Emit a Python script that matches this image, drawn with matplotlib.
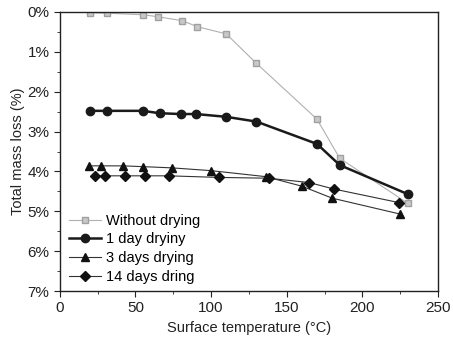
import numpy as np
import matplotlib.pyplot as plt
from matplotlib.ticker import MultipleLocator, FuncFormatter

plt.rcParams['font.family'] = ['Liberation Sans', 'DejaVu Sans']

# total mass loss (%) vs surface temperature (degC)
t_none = [20, 31, 55, 65, 81, 91, 110, 130, 170, 185, 230]
y_none = [0.02, 0.03, 0.07, 0.12, 0.22, 0.37, 0.55, 1.29, 2.69, 3.67, 4.80]

t_1d = [20, 31, 55, 66, 80, 90, 110, 130, 170, 185, 230]
y_1d = [2.48, 2.48, 2.48, 2.54, 2.56, 2.56, 2.63, 2.75, 3.31, 3.84, 4.57]

t_3d = [19, 27, 42, 55, 74, 100, 136, 160, 180, 225]
y_3d = [3.86, 3.86, 3.86, 3.88, 3.91, 3.98, 4.13, 4.37, 4.67, 5.07]

t_14d = [23, 30, 43, 56, 72, 105, 138, 165, 181, 224]
y_14d = [4.11, 4.11, 4.11, 4.11, 4.11, 4.15, 4.17, 4.28, 4.44, 4.78]

fig = plt.figure(figsize=(4.53, 3.42), dpi=100)
ax = fig.add_axes([0.132, 0.149, 0.835, 0.816])

ax.plot(t_none, y_none, color='#b0b0b0', lw=0.8, marker='s', ms=4,
        mfc='#c8c8c8', mec='#a0a0a0', label='Without drying')
ax.plot(t_1d, y_1d, color='#1a1a1a', lw=1.8, marker='o', ms=6,
        label='1 day dryiny')
ax.plot(t_3d, y_3d, color='#333333', lw=0.8, marker='^', ms=6,
        mfc='#111111', mec='#111111', label='3 days drying')
ax.plot(t_14d, y_14d, color='#333333', lw=0.8, marker='D', ms=5,
        mfc='#111111', mec='#111111', label='14 days dring')

ax.set_xlim(0, 250)
ax.set_ylim(7, 0)
ax.xaxis.set_major_locator(MultipleLocator(50))
ax.xaxis.set_minor_locator(MultipleLocator(25))
ax.yaxis.set_major_locator(MultipleLocator(1))
ax.yaxis.set_minor_locator(MultipleLocator(0.5))
ax.yaxis.set_major_formatter(FuncFormatter(lambda v, p: '%d%%' % round(v)))
ax.tick_params(which='both', direction='out', top=False, right=False,
               labelsize=11, colors='#222222')
ax.tick_params(which='major', length=4)
ax.tick_params(which='minor', length=2.5)
for s in ax.spines.values():
    s.set_linewidth(1.0)
    s.set_color('#222222')

ax.set_xlabel('Surface temperature (°C)', fontsize=10.5, color='#222222')
ax.set_ylabel('Total mass loss (%)', fontsize=10.5, color='#222222', labelpad=2)

ax.legend(loc='lower left', bbox_to_anchor=(0.0, -0.005), frameon=False,
          fontsize=10.5, handlelength=2.2, handletextpad=0.4,
          labelspacing=0.32, borderaxespad=0.2)

fig.savefig('out.png', dpi=100)
